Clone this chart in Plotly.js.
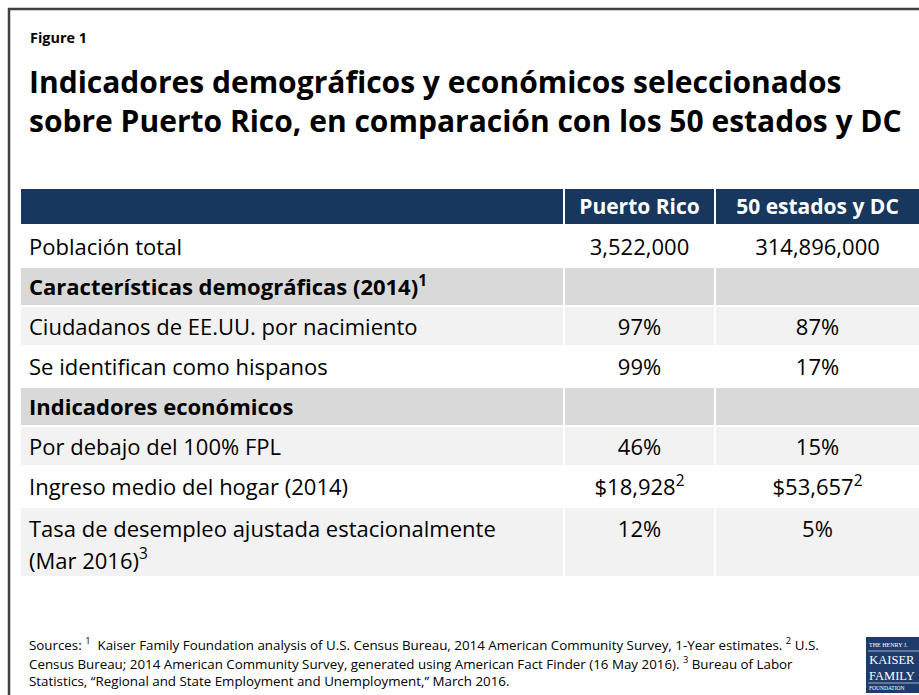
<!DOCTYPE html>
<html>
<head>
<meta charset="utf-8">
<script src="https://cdn.plot.ly/plotly-3.0.1.min.js"></script>
<style>html,body{margin:0;padding:0;background:#fff;}#chart{width:919px;height:695px;}</style>
</head>
<body>
<div id="chart"></div>
<script>
// ---- data ----
const headers = ["", "Puerto Rico", "50 estados y DC"];
const categories = [
  "Población total",
  "Características demográficas (2014)<sup>1</sup>",
  "Ciudadanos de EE.UU. por nacimiento",
  "Se identifican como hispanos",
  "Indicadores económicos",
  "Por debajo del 100% FPL",
  "Ingreso medio del hogar (2014)",
  "Tasa de desempleo ajustada estacionalmente<br>(Mar 2016)<sup>3</sup>"
];
const isSection = [false, true, false, false, true, false, false, false];
const puertoRico = ["3,522,000", "", "97%", "99%", "", "46%", "$18,928<sup>2</sup>", "12%"];
const estadosDC = ["314,896,000", "", "87%", "17%", "", "15%", "$53,657<sup>2</sup>", "5%"];
const sources = [
  "Sources: <sup>1</sup>  Kaiser Family Foundation analysis of U.S. Census Bureau, 2014 American Community Survey, 1-Year estimates. <sup>2</sup> U.S.",
  "Census Bureau; 2014 American Community Survey, generated using American Fact Finder (16 May 2016). <sup>3</sup> Bureau of Labor",
  "Statistics, \u201cRegional and State Employment and Unemployment,\u201d March 2016."
];
const figLabel = "Figure 1";
const titleLines = [
  "Indicadores demográficos y económicos seleccionados",
  "sobre Puerto Rico, en comparación con los 50 estados y DC"
];
const logoTop = "THE HENRY J.";
const logoMain = "KAISER<br>FAMILY";
const logoBottom = "FOUNDATION";

// ---- styling / layout ----
const W = 919, H = 695;
const FONT = "'Open Sans', 'Noto Sans', sans-serif";
const SERIF = "'Liberation Serif', 'DejaVu Serif', serif";
const NAVY = "#17375e";
const colWidths = [544, 151, 205];
const rowHeights = [37, 42, 39, 40, 41, 39, 40, 41, 70]; // header + rows
// fill codes: 0 navy, 1 white, 2 dark gray, 3 light gray
const rowFillCode = [1, 2, 3, 1, 2, 3, 1, 3];
const TEXT_DY = 3;      // optical shift of text inside cells
const LINE_GAP = 32;    // line spacing inside a wrapped cell

const colEdges = [0];
colWidths.forEach(w => colEdges.push(colEdges[colEdges.length - 1] + w));
const rowEdges = [0];
rowHeights.forEach(h => rowEdges.push(rowEdges[rowEdges.length - 1] + h));
const totalH = rowEdges[rowEdges.length - 1];
const colCenters = colWidths.map((w, i) => colEdges[i] + w / 2);
const rowTop = i => rowEdges[i + 1];
const firstLineY = categories.map((c, i) => rowTop(i) + Math.min(rowHeights[i + 1], 42) / 2 + TEXT_DY);

const z = [headers.map(() => 0)].concat(rowFillCode.map(code => headers.map(() => code)));

// label lines (wrapped labels are split into their lines)
const labelX = [], labelY = [], labelText = [];
categories.forEach((c, i) => {
  c.split("<br>").forEach((line, k) => {
    labelX.push(9);
    labelY.push(firstLineY[i] + k * LINE_GAP);
    labelText.push(isSection[i] ? "<b>" + line + "</b>" : line);
  });
});

function valueTrace(values, colIdx) {
  const xs = [], ys = [], ts = [];
  values.forEach((v, i) => {
    if (v === "") return;
    xs.push(colCenters[colIdx]); ys.push(firstLineY[i]); ts.push(v);
  });
  return {
    type: "scatter", mode: "text", x: xs, y: ys, text: ts,
    textposition: "middle center",
    textfont: {family: FONT, size: 22, color: "#000000"},
    hoverinfo: "skip"
  };
}

const px = y => 1 - y / H;
const pxx = x => x / W;

const fillTrace = {
  type: "heatmap",
  x: colEdges, y: rowEdges, z: z,
  zmin: 0, zmax: 3,
  colorscale: [[0, NAVY], [0.2, NAVY], [0.2, "#ffffff"], [0.45, "#ffffff"], [0.45, "#d9d9d9"], [0.8, "#d9d9d9"], [0.8, "#f2f2f2"], [1, "#f2f2f2"]],
  showscale: false, xgap: 2, ygap: 2, hoverinfo: "skip"
};
const headerTrace = {
  type: "scatter", mode: "text",
  x: colCenters.slice(1), y: [rowHeights[0] / 2 + 2, rowHeights[0] / 2 + 2],
  text: headers.slice(1).map(h => "<b>" + h + "</b>"),
  textposition: "middle center",
  textfont: {family: FONT, size: 21, color: "#ffffff"},
  hoverinfo: "skip"
};
const labelTrace = {
  type: "scatter", mode: "text",
  x: labelX, y: labelY, text: labelText,
  textposition: "middle right",
  textfont: {family: FONT, size: 22, color: "#000000"},
  hoverinfo: "skip"
};
const prTrace = valueTrace(puertoRico, 1);
const usTrace = valueTrace(estadosDC, 2);

const annotations = [];
annotations.push({xref: "paper", yref: "paper", x: pxx(28), y: px(37), xanchor: "left", yanchor: "middle",
  text: "<b>" + figLabel + "</b>", showarrow: false, font: {family: FONT, size: 14.4, color: "#000"}});
titleLines.forEach((t, i) => annotations.push({xref: "paper", yref: "paper", x: pxx(27), y: px(82 + i * 38), xanchor: "left", yanchor: "middle",
  text: "<b>" + t + "</b>", showarrow: false, font: {family: FONT, size: 30, color: "#000"}}));
sources.forEach((t, i) => annotations.push({xref: "paper", yref: "paper", x: pxx(27), y: px(644 + i * 18.5), xanchor: "left", yanchor: "middle",
  text: t, showarrow: false, font: {family: FONT, size: 13.35, color: "#000"}}));
annotations.push({xref: "paper", yref: "paper", x: pxx(867), y: px(645), xanchor: "left", yanchor: "middle",
  text: logoTop, showarrow: false, font: {family: SERIF, size: 6, color: "#ffffff"}});
annotations.push({xref: "paper", yref: "paper", x: pxx(867), y: px(668), xanchor: "left", yanchor: "middle",
  text: logoMain, showarrow: false, font: {family: SERIF, size: 12.5, color: "#ffffff"}});
annotations.push({xref: "paper", yref: "paper", x: pxx(867), y: px(687.5), xanchor: "left", yanchor: "middle",
  text: logoBottom, showarrow: false, font: {family: SERIF, size: 5.5, color: "#ffffff"}});

const shapes = [
  {type: "rect", xref: "paper", yref: "paper", x0: pxx(9), x1: pxx(930), y0: px(720), y1: px(9),
   line: {color: "#404040", width: 2.5}, fillcolor: "rgba(0,0,0,0)", layer: "above"},
  {type: "rect", xref: "paper", yref: "paper", x0: pxx(866), x1: pxx(930), y0: px(693), y1: px(637),
   line: {width: 0}, fillcolor: "#1d3c6b", layer: "below"},
  {type: "line", xref: "paper", yref: "paper", x0: pxx(868), x1: pxx(930), y0: px(651), y1: px(651),
   line: {color: "#ffffff", width: 0.6}},
  {type: "line", xref: "paper", yref: "paper", x0: pxx(868), x1: pxx(930), y0: px(683), y1: px(683),
   line: {color: "#ffffff", width: 0.6}}
];

const axisOff = {showgrid: false, zeroline: false, showticklabels: false, ticks: "", showline: false, fixedrange: true};
const layout = {
  width: W, height: H,
  margin: {l: 0, r: 0, t: 0, b: 0},
  paper_bgcolor: "#ffffff", plot_bgcolor: "#ffffff",
  showlegend: false,
  xaxis: Object.assign({domain: [pxx(20), 1], range: [0, W - 20]}, axisOff),
  yaxis: Object.assign({domain: [px(188 + totalH), px(188)], range: [totalH, 0]}, axisOff),
  annotations: annotations,
  shapes: shapes
};

Plotly.newPlot("chart", [fillTrace, headerTrace, labelTrace, prTrace, usTrace], layout, {displayModeBar: false, staticPlot: true});
</script>
</body>
</html>
